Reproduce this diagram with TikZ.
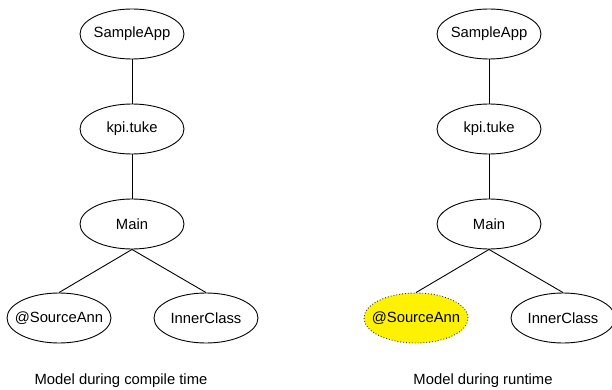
\documentclass[tikz,border=0pt]{standalone}
\usepackage{fontspec}
\setmainfont{Liberation Sans}
\usetikzlibrary{shapes.geometric}
\newcommand{\tl}[1]{\makebox[0pt]{#1}}
\tikzset{
  tnode/.style={ellipse, draw=black, line width=0.9pt, minimum width=104pt, minimum height=50pt, inner sep=0pt, font=\fontsize{14.8}{17}\selectfont, fill=white},
  hl/.style={tnode, fill=yellow, dotted, draw=black!80},
  edge/.style={draw=black, line width=0.9pt},
  caption/.style={font=\fontsize{14.8}{17}\selectfont, inner sep=0pt}
}
\begin{document}
\begin{tikzpicture}[x=1pt,y=-1pt]
\useasboundingbox (0,0) rectangle (612,390);
% left tree
\node[tnode] (la) at (132,34) {\tl{SampleApp}};
\node[tnode] (lk) at (132,129) {\tl{kpi.tuke}};
\node[tnode] (lm) at (132,224) {\tl{Main}};
\node[tnode] (ls) at (59,318) {\tl{@SourceAnn}};
\node[tnode] (li) at (206,318) {\tl{InnerClass}};
\draw[edge] (la) -- (lk);
\draw[edge] (lk) -- (lm);
\draw[edge] (lm.south) -- (ls.north);
\draw[edge] (lm.south) -- (li.north);
\node[caption] (lc) at (121,381) {Model during compile time};
% right tree
\node[tnode] (ra) at (489,34) {\tl{SampleApp}};
\node[tnode] (rk) at (489,129) {\tl{kpi.tuke}};
\node[tnode] (rm) at (489,224) {\tl{Main}};
\node[hl] (rs) at (416,318) {\tl{@SourceAnn}};
\node[tnode] (ri) at (563,318) {\tl{InnerClass}};
\draw[edge] (ra) -- (rk);
\draw[edge] (rk) -- (rm);
\draw[edge] (rm.south) -- (rs.north);
\draw[edge] (rm.south) -- (ri.north);
\node[caption] (rc) at (483,381) {Model during runtime};
\end{tikzpicture}
\end{document}
